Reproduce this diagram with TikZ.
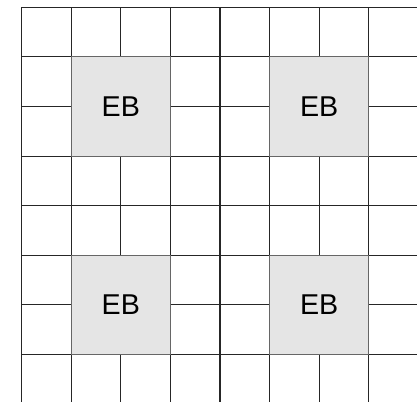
\documentclass[tikz,border=0pt]{standalone}
\usepackage{fontspec}
\setmainfont{Liberation Sans}
\begin{document}
\begin{tikzpicture}[x=0.75pt,y=-0.75pt,
  gridline/.style={draw=black!85,line width=0.8pt},
  ebbox/.style={draw=black!60,line width=0.8pt,fill=black!10,minimum width=99.2*0.75pt,minimum height=99.2*0.75pt,inner sep=0pt,font=\fontsize{21.5}{24}\selectfont}]
\useasboundingbox (0,0) rectangle (417,401);
\fill[white] (0,0) rectangle (417,401);
\foreach \k in {0,...,7}{
  \draw[gridline] ({21.6+49.6*\k},7.3) -- ({21.6+49.6*\k},402);
  \draw[gridline] (21.6,{7.3+49.6*\k}) -- (418,{7.3+49.6*\k});
}
\node[ebbox] (eb1) at (120.8,106.5) {EB};
\node[ebbox] (eb2) at (319.2,106.5) {EB};
\node[ebbox] (eb3) at (120.8,304.9) {EB};
\node[ebbox] (eb4) at (319.2,304.9) {EB};
\end{tikzpicture}
\end{document}
